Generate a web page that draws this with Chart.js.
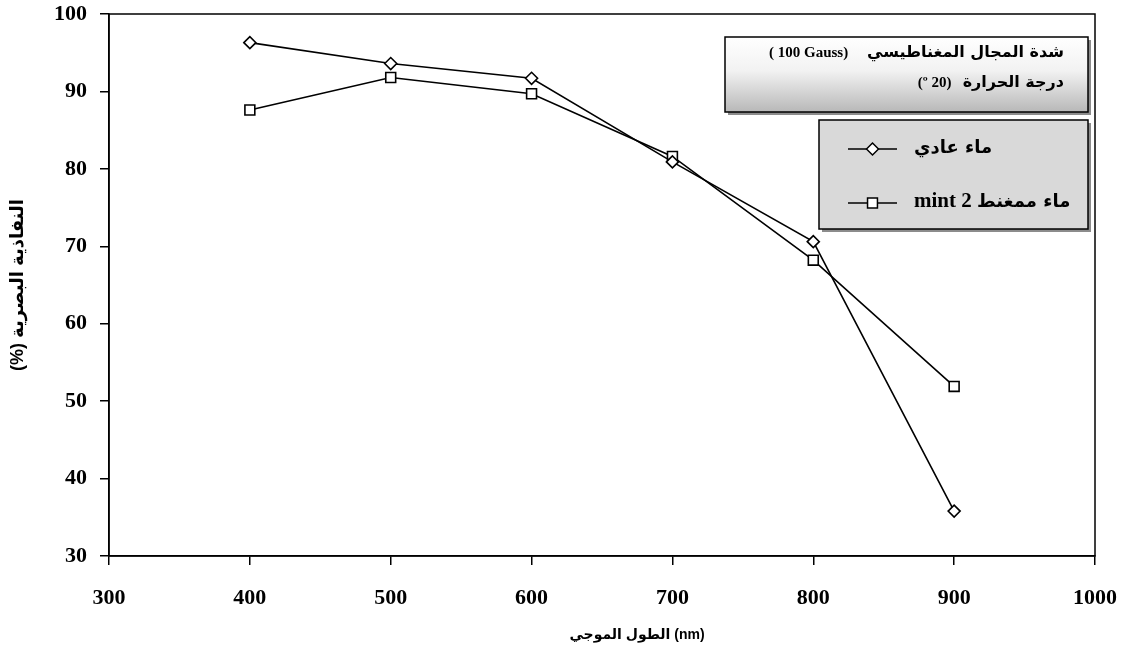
<!DOCTYPE html>
<html>
<head>
<meta charset="utf-8">
<script src="https://cdn.jsdelivr.net/npm/chart.js@4.4.1/dist/chart.umd.min.js"></script>
<style>
html, body { margin: 0; padding: 0; background: #fff; }
</style>
</head>
<body>
<canvas id="chart" width="1128" height="657"></canvas>
<script>
// values
const wavelengths = [400, 500, 600, 700, 800, 900]
const normalWater = [96.3, 93.6, 91.7, 80.9, 70.6, 35.8]
const magnetWater = [87.6, 91.8, 89.7, 81.6, 68.2, 51.9]
const seriesNames = ["ماء عادي", "mint 2 ماء ممغنط"]
const infoLines = ["( 100 Gauss)     شدة المجال المغناطيسي", "(º 20)   درجة الحرارة"]
const xTitle = "الطول الموجي (nm)"
const yTitle = "(%) النفاذية البصرية"

const serifBold = (size) => ({ family: "'Liberation Serif', 'Times New Roman', 'DejaVu Sans'", size: size, weight: "bold" })
const sansBold = (size) => ({ family: "'Liberation Sans', Arial, 'DejaVu Sans'", size: size, weight: "bold" })

function toPoints(values){
    return values.map((v, i) => ({ x: wavelengths[i], y: v }))
}

// draws latin and arabic runs with their own sizes, left to right
function drawMixed(ctx, text, x, y, align, latinSize, arabicSize){
    const runs = text.split(/([\u0600-\u06FF][\u0600-\u06FF ]*[\u0600-\u06FF])/).filter(s => s.length)
    const fonts = runs.map(r => /[\u0600-\u06FF]/.test(r)
        ? `bold ${arabicSize}px 'DejaVu Sans'`
        : `bold ${latinSize}px 'Liberation Serif', 'Times New Roman'`)
    const widths = runs.map((r, i) => { ctx.font = fonts[i]; return ctx.measureText(r).width })
    const total = widths.reduce((a, b) => a + b, 0)
    let cx = align === "right" ? x - total : x
    ctx.textAlign = "left"
    runs.forEach((r, i) => {
        ctx.font = fonts[i]
        ctx.fillText(r, cx, y)
        cx += widths[i]
    })
}

function drawBox(ctx, x, y, w, h, fill){
    ctx.save()
    ctx.fillStyle = "#8c8c8c"
    ctx.fillRect(x + 3, y + 3, w, h)
    ctx.fillStyle = fill
    ctx.fillRect(x, y, w, h)
    ctx.strokeStyle = "#000"
    ctx.lineWidth = 1.5
    ctx.strokeRect(x, y, w, h)
    ctx.restore()
}

function legendSample(ctx, ds, x1, x2, y){
    ctx.save()
    ctx.strokeStyle = "#000"
    ctx.lineWidth = 1.5
    ctx.beginPath()
    ctx.moveTo(x1, y)
    ctx.lineTo(x2, y)
    ctx.stroke()
    ctx.fillStyle = "#fff"
    Chart.helpers.drawPoint(ctx, {
        pointStyle: ds.pointStyle,
        radius: ds.pointRadius,
        borderWidth: ds.pointBorderWidth,
        rotation: 0
    }, (x1 + x2) / 2, y)
    ctx.restore()
}

const decorations = {
    id: "decorations",
    beforeDatasetsDraw(chart){
        const { ctx, chartArea: a } = chart
        ctx.save()
        ctx.strokeStyle = "#000"
        ctx.lineWidth = 1.5
        ctx.strokeRect(a.left, a.top, a.right - a.left, a.bottom - a.top)
        ctx.restore()
    },
    afterDraw(chart){
        const ctx = chart.ctx

        // info box (field strength / temperature)
        const grad = ctx.createLinearGradient(0, 37, 0, 112)
        grad.addColorStop(0, "#ffffff")
        grad.addColorStop(0.45, "#f2f2f2")
        grad.addColorStop(1, "#b8b8b8")
        drawBox(ctx, 725, 37, 363, 75, grad)
        ctx.save()
        ctx.fillStyle = "#000"
        ctx.direction = "ltr"
        ctx.textBaseline = "middle"
        drawMixed(ctx, infoLines[0], 1064, 53, "right", 15, 16)
        drawMixed(ctx, infoLines[1], 1064, 83, "right", 15, 16)
        ctx.restore()

        // legend box
        drawBox(ctx, 819, 120, 269, 109, "#d9d9d9")
        const sets = chart.data.datasets
        legendSample(ctx, sets[0], 848, 897, 149)
        legendSample(ctx, sets[1], 848, 897, 203)
        ctx.save()
        ctx.fillStyle = "#000"
        ctx.direction = "ltr"
        ctx.textBaseline = "middle"
        drawMixed(ctx, seriesNames[0], 914, 148, "left", 21, 18)
        drawMixed(ctx, seriesNames[1], 914, 202, "left", 21, 18)
        ctx.restore()
    }
}

const lineStyle = {
    borderColor: "#000",
    borderWidth: 1.6,
    pointBackgroundColor: "#fff",
    pointBorderColor: "#000",
    pointBorderWidth: 1.6,
    tension: 0,
    fill: false
}

new Chart(document.getElementById("chart"), {
    type: "line",
    data: {
        datasets: [
            Object.assign({ label: seriesNames[0], data: toPoints(normalWater), pointStyle: "rectRot", pointRadius: 6 }, lineStyle),
            Object.assign({ label: seriesNames[1], data: toPoints(magnetWater), pointStyle: "rect", pointRadius: 7 }, lineStyle)
        ]
    },
    options: {
        responsive: false,
        animation: false,
        devicePixelRatio: 1,
        layout: { padding: { top: 14, right: 33, bottom: 0, left: 0 } },
        plugins: { legend: { display: false }, tooltip: { enabled: false } },
        scales: {
            x: {
                type: "linear",
                min: 300,
                max: 1000,
                ticks: { stepSize: 100, color: "#000", font: serifBold(22), padding: 20, maxRotation: 0, callback: v => String(v) },
                grid: { drawOnChartArea: false, tickLength: 9, color: "#000", lineWidth: 1.5 },
                border: { color: "#000", width: 1.5 },
                title: { display: true, text: "\u00a0".repeat(18) + xTitle, color: "#000", font: sansBold(14), padding: { top: 0, bottom: 13 } },
                afterFit(scale){
                    scale.height = 101
                    scale.paddingLeft = 0
                    scale.paddingRight = 0
                }
            },
            y: {
                min: 30,
                max: 100,
                ticks: { stepSize: 10, color: "#000", font: serifBold(22), padding: 13 },
                grid: { drawOnChartArea: false, tickLength: 9, color: "#000", lineWidth: 1.5 },
                border: { color: "#000", width: 1.5 },
                title: { display: true, text: yTitle, color: "#000", font: sansBold(18), padding: { top: 7, bottom: 0 } },
                afterFit(scale){
                    scale.width = 109
                    scale.paddingTop = 0
                    scale.paddingBottom = 0
                }
            }
        }
    },
    plugins: [decorations]
})
</script>
</body>
</html>
